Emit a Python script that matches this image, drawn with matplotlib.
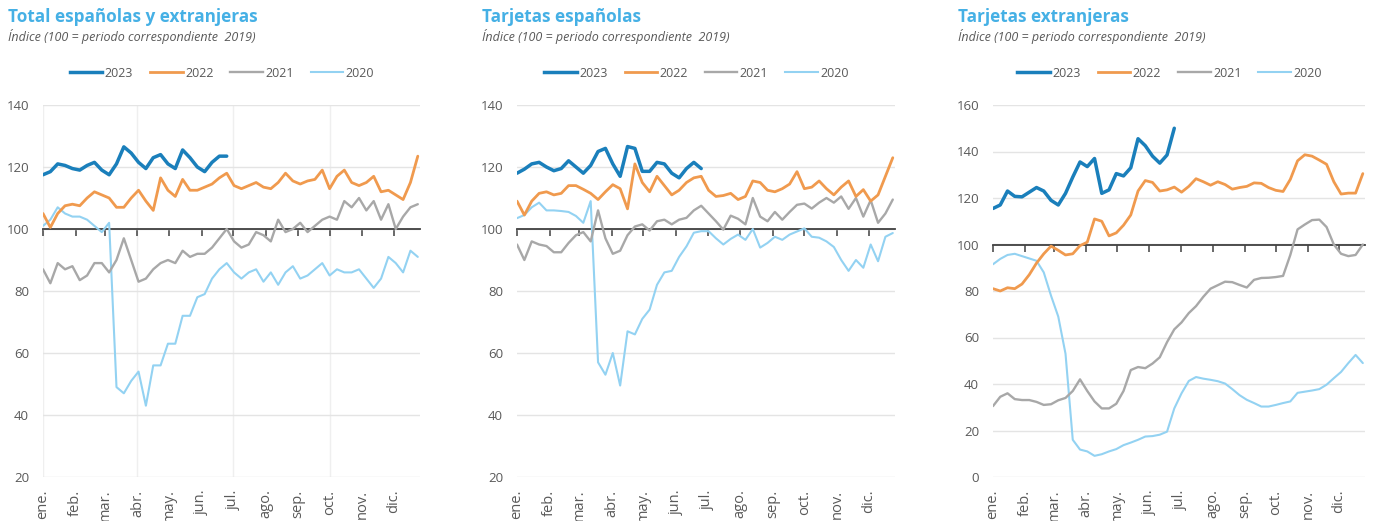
import numpy as np
import matplotlib
matplotlib.use("Agg")
import matplotlib.pyplot as plt
from matplotlib.lines import Line2D

plt.rcParams['font.family'] = ['Open Sans', 'DejaVu Sans']

# ---------------- data ----------------
years = ["2023", "2022", "2021", "2020"]
months = ["ene.", "feb.", "mar.", "abr.", "may.", "jun.", "jul.", "ago.", "sep.", "oct.", "nov.", "dic."]
month_days = [31, 28, 31, 30, 31, 30, 31, 31, 30, 31, 30, 31]

titles = ["Total españolas y extranjeras", "Tarjetas españolas", "Tarjetas extranjeras"]
subtitle = "Índice (100 = periodo correspondiente  2019)"

# Total españolas y extranjeras (weekly index)
tot23 = [117.5,118.5,121,120.5,119.5,119,120.5,121.5,119,117.5,121,126.5,124.5,121.5,119.5,123,124,121,119.5,125.5,123,120,118.5,121.5,123.5,123.5]
tot22 = [105,100.5,105,107.5,108,107.5,110,112,111,110,107,107,110,112.5,109,106,116.5,112.5,110.5,116,112.5,112.5,113.5,114.5,116.5,118,114,113,114,115,113.5,113,115,118,115.5,114.5,115.5,116,119,113,117,119,115,114,115,117,112,112.5,111,109.5,115,123.5]
tot21 = [87,82.5,89,87,88,83.5,85,89,89,86,90,97,90,83,84,87,89,90,89,93,91,92,92,94,97,100,96,94,95,99,98,96,103,99,100,102,99,101,103,104,103,109,107,110,106,109,103,108,100,104,107,108]
tot20 = [101,103,107,105,104,104,103,101,99,102,49,47,51,54,43,56,56,63,63,72,72,78,79,84,87,89,86,84,86,87,83,86,82,86,88,84,85,87,89,85,87,86,86,87,84,81,84,91,89,86,93,91]

# Tarjetas españolas
esp23 = [118,119.3,121,121.5,120,118.8,119.5,122,120,118,120.5,125,126,121,117,126.6,126,118.6,118.6,121.5,121,118,116.5,119.5,121.5,119.5]
esp22 = [109,104.5,109,111.5,112,111,111.5,114,114,112.8,111.5,109.5,112,114.3,113,106.5,121,115,112,117,114,111,112.5,115,116.5,117,112.5,110.5,110.8,111.5,109.5,110.5,115.5,115,112.5,112,113,114.5,118.5,113,113.5,115.5,113,111,113.5,115.5,110.5,112.7,109,111,117,123]
esp21 = [95,90,96,95,94.5,92.5,92.5,95.5,98,99,96,106,97,92,93,98,100.8,101.5,99.5,102.5,103,101.5,103,103.6,106,107.5,105,102.5,99.8,104.3,103.3,101.5,110,104,102.5,105.5,103,105.5,107.8,108.2,106.6,108.5,110,108.5,110.5,106.5,110,104,109.3,102,105,109.5]
esp20 = [103.5,104.5,107,108.5,106,106,105.8,105.5,104.2,102,109,57,53,60,49.5,67,66,71,74,82,86,86.5,91,94.4,98.8,99.3,99.3,97,95,96.8,98.2,96.5,100,94,95.5,97.5,96.5,98.2,99.2,100.2,97.5,97.2,96,94.2,90,86.5,90,87.5,95,89.6,97.5,98.7]

# Tarjetas extranjeras
ext23 = [115.5,117,123,120.7,120.5,122.5,124.5,123,119,117,122,129,135.5,133.5,137,122,123.5,130.5,129.5,133,145.5,142.5,138,135,138.5,150]
ext22 = [81,80,81.4,81,83,87,92,96,99.3,97.5,95.5,96,99.5,101,111,110,103.7,105,108.3,112.7,123,127.5,126.7,123,123.5,124.7,122.5,125,128.3,127,125.5,127,125.8,123.8,124.5,125,126.5,126.3,124.5,123.3,122.8,128,136,138.6,138,136.3,134.5,127,121.7,122.1,122.1,130.5]
ext21 = [30.5,34.5,36,33.5,33.1,33.1,32.3,31,31.3,33,34,37,42,37,32.5,29.5,29.5,31.5,37,46,47.3,46.8,48.8,51.5,58,63.5,66.5,70.5,73.5,77.5,81,82.5,84,83.8,82.6,81.5,84.8,85.6,85.7,86,86.5,95.5,106.5,108.6,110.5,110.7,107.5,100,96,95,95.5,100]
ext20 = [91.5,93.8,95.5,96,95,94,93,88,78,69,53,16,11.8,11,9.1,9.8,11,12,13.7,14.8,16,17.4,17.6,18.2,19.5,29.5,36,41.3,43,42.3,41.8,41.2,40.2,37.8,35.2,33.2,31.8,30.3,30.3,31,31.8,32.5,36.2,36.7,37.2,37.8,39.7,42.5,45.2,49,52.5,49]

panels = [
    [tot23, tot22, tot21, tot20],
    [esp23, esp22, esp21, esp20],
    [ext23, ext22, ext21, ext20],
]
ylims = [(20, 140), (20, 140), (0, 160)]

# ---------------- style ----------------
colors = ["#1a7fbb", "#f09a4e", "#a8a8a8", "#93d2f2"]
widths = [2.5, 2.0, 1.7, 1.5]
zorders = [6, 5, 4, 3]
title_color = "#45b0e5"
text_gray = "#595959"

W, H = 1375, 521
fig = plt.figure(figsize=(W / 100, H / 100), dpi=100)

ax_px = [(43, 377), (517, 378), (993, 372)]  # left, width in px
bottom_px, top_px = 477, 105
title_x = [8, 482, 958]

month_pos = np.concatenate([[0], np.cumsum(month_days)[:-1]]) / 7.0

for k, (series, ylim) in enumerate(zip(panels, ylims)):
    lpx, wpx = ax_px[k]
    ax = fig.add_axes([lpx / W, (H - bottom_px) / H, wpx / W, (bottom_px - top_px) / H])
    for s, c, lw, z, lab in zip(series, colors, widths, zorders, years):
        ax.plot(np.arange(len(s)), s, color=c, lw=lw, zorder=z, label=lab,
                solid_joinstyle='round', solid_capstyle='round')
    ax.set_xlim(0, 51.3)
    ax.set_ylim(*ylim)
    ax.set_yticks(np.arange(ylim[0], ylim[1] + 1, 20))
    ax.yaxis.grid(True, color="#e4e4e4", lw=1.0, zorder=0)
    if k == 0:
        for q in month_pos[::3]:
            ax.axvline(q, color="#efefef", lw=1.0, zorder=0)
    ax.set_axisbelow(True)
    for sp in ["left", "right", "top"]:
        ax.spines[sp].set_visible(False)
    ax.spines["bottom"].set_position(("data", 100))
    ax.spines["bottom"].set_color("#404040")
    ax.spines["bottom"].set_linewidth(1.3)
    ax.spines["bottom"].set_zorder(2.5)
    ax.set_xticks(month_pos)
    ax.tick_params(axis="x", direction="out", length=5, width=1.1, color="#404040",
                   labelbottom=False)
    ax.tick_params(axis="y", length=0, pad=10, labelsize=9.5, labelcolor=text_gray)

    sec = ax.secondary_xaxis(0.0)
    sec.set_xticks(month_pos, labels=months)
    sec.tick_params(length=0, pad=9, labelsize=10.5, labelcolor=text_gray, labelrotation=90)
    sec.spines["bottom"].set_visible(False)

    handles = [Line2D([0], [0], color=c, lw=lw) for c, lw in zip(colors, widths)]
    ax.legend(handles, years, loc="center", bbox_to_anchor=(0.475, 1.086), ncol=4,
              frameon=False, fontsize=9, handlelength=2.6, handletextpad=0.2,
              columnspacing=1.35, labelcolor=text_gray)

    fig.text(title_x[k] / W, 1 - 17 / H, titles[k], fontsize=12.3, fontweight="bold",
             color=title_color, ha="left", va="center")
    fig.text(title_x[k] / W, 1 - 37 / H, subtitle, fontsize=9, fontstyle="italic",
             color=text_gray, ha="left", va="center")

fig.savefig("out.png", dpi=100)
